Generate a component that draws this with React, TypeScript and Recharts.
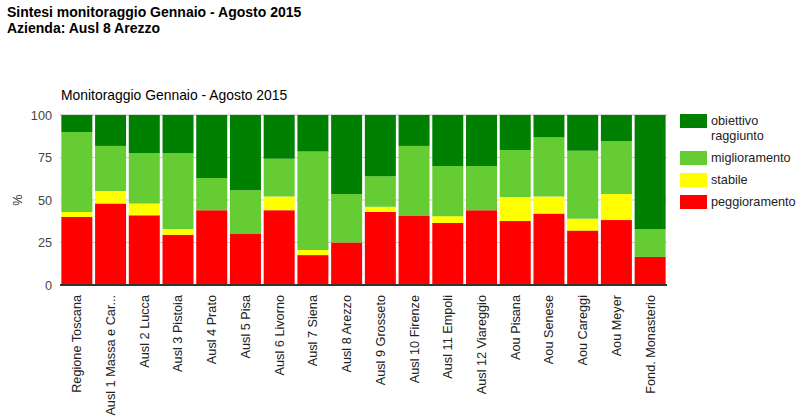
import React from 'react';
import { BarChart, Bar, XAxis, YAxis, CartesianGrid } from 'recharts';

const categories = ['Regione Toscana', 'Ausl 1 Massa e Car...', 'Ausl 2 Lucca', 'Ausl 3 Pistoia', 'Ausl 4 Prato', 'Ausl 5 Pisa', 'Ausl 6 Livorno', 'Ausl 7 Siena', 'Ausl 8 Arezzo', 'Ausl 9 Grosseto', 'Ausl 10 Firenze', 'Ausl 11 Empoli', 'Ausl 12 Viareggio', 'Aou Pisana', 'Aou Senese', 'Aou Careggi', 'Aou Meyer', 'Fond. Monasterio'];
const peggioramento = [40, 48, 41, 29.5, 44, 30, 44, 17.6, 25, 43, 40.6, 36.5, 44, 37.6, 42, 32, 38.2, 16.5];
const stabile = [3, 7.3, 7, 3.5, 0, 0, 8, 3, 0, 3, 0, 4, 0, 14.2, 10, 7, 15.3, 0];
const miglioramento = [47, 26.5, 29.6, 44.5, 19, 25.7, 22.2, 58, 28.5, 18, 41.2, 29.5, 26, 27.6, 35, 40, 31.2, 16.5];
const obiettivo = [10, 18.2, 22.4, 22.5, 37, 44.3, 25.8, 21.4, 46.5, 36, 18.2, 30, 30, 20.6, 13, 21, 15.3, 67];
const yTicks = [0, 25, 50, 75, 100];

const mainTitle = ['Sintesi monitoraggio Gennaio - Agosto 2015', 'Azienda: Ausl 8 Arezzo'];
const chartTitle = 'Monitoraggio Gennaio - Agosto 2015';

const series = [
  { key: 'obiettivo', name: 'obiettivo raggiunto', color: '#008000' },
  { key: 'miglioramento', name: 'miglioramento', color: '#66CC33' },
  { key: 'stabile', name: 'stabile', color: '#FFFF00' },
  { key: 'peggioramento', name: 'peggioramento', color: '#FF0000' },
];

const data = categories.map((c, i) => ({
  name: c,
  peggioramento: peggioramento[i],
  stabile: stabile[i],
  miglioramento: miglioramento[i],
  obiettivo: obiettivo[i],
}));

const FONT = 'Arial, "Liberation Sans", sans-serif';

const XTick = (props: any) => {
  const { x, y, payload } = props;
  return (
    <g transform={`translate(${x},${y})`}>
      <text transform="rotate(-90)" textAnchor="end" dy="0.35em" fontSize={12.7} fontFamily={FONT} fill="#222">
        {payload.value}
      </text>
    </g>
  );
};

export default function App() {
  const stackOrder = ['peggioramento', 'stabile', 'miglioramento', 'obiettivo'];
  return (
    <div style={{ position: 'absolute', left: 0, top: 0, width: 810, height: 418, background: '#fff', fontFamily: FONT, overflow: 'hidden' }}>
      <div style={{ position: 'absolute', left: 7, top: 4, fontSize: 14, lineHeight: '16px', fontWeight: 'bold', color: '#000' }}>
        {mainTitle.map((t) => (
          <div key={t}>{t}</div>
        ))}
      </div>
      <BarChart
        width={810}
        height={418}
        data={data}
        margin={{ top: 115, right: 143, bottom: 0, left: 15 }}
        barCategoryGap="4%"
      >
        <text x={61} y={100} fontSize={13.9} fontFamily={FONT} fill="#000">{chartTitle}</text>
        <text x={18} y={200} transform="rotate(-90 18 200)" textAnchor="middle" dy="0.35em" fontSize={12.7} fontFamily={FONT} fill="#222">%</text>
        <CartesianGrid horizontal vertical={false} stroke="#cccccc" />
        <XAxis
          dataKey="name"
          interval={0}
          height={133}
          tick={<XTick />}
          tickLine={false}
          tickSize={8}
          tickMargin={2}
          axisLine={{ stroke: '#333', strokeWidth: 2 }}
        />
        <YAxis
          width={45}
          domain={[0, 100]}
          ticks={yTicks}
          axisLine={false}
          tickLine={false}
          tick={{ fontSize: 12.7, fontFamily: FONT, fill: '#444' }}
        />
        {stackOrder.map((k) => {
          const s = series.find((x) => x.key === k)!;
          return <Bar key={k} dataKey={k} name={s.name} stackId="a" fill={s.color} isAnimationActive={false} />;
        })}
      </BarChart>
      <div style={{ position: 'absolute', left: 680, top: 114, width: 125 }}>
        {series.map((s) => (
          <div key={s.key} style={{ display: 'flex', alignItems: 'flex-start', marginBottom: 7 }}>
            <div style={{ width: 27, height: 14, background: s.color, flex: 'none' }} />
            <div style={{ marginLeft: 4, fontSize: 12.7, lineHeight: '15px', color: '#222', width: 90 }}>{s.name}</div>
          </div>
        ))}
      </div>
    </div>
  );
}
